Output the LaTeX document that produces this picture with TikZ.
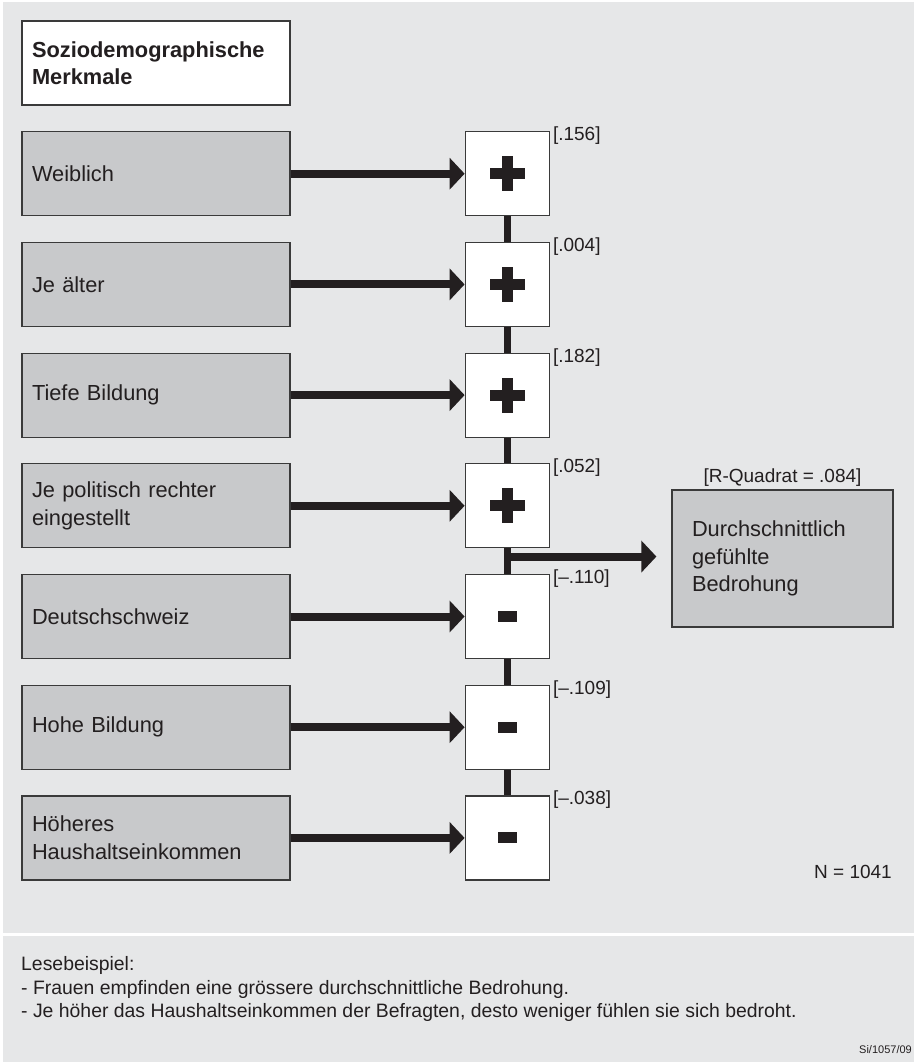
\documentclass[tikz,border=0pt]{standalone}
\usepackage{fontspec}
\setmainfont{Liberation Sans}
\setsansfont{Liberation Sans}
\usepackage{tikz}
\usetikzlibrary{arrows.meta,positioning,calc}
\definecolor{panelGray}{HTML}{E6E7E8}
\definecolor{boxGray}{HTML}{C8C9CB}
\definecolor{inkBlack}{HTML}{231F20}
\definecolor{rimGray}{HTML}{3A3A3A}
\tikzstyle{factorBox}=[draw=rimGray,fill=boxGray,line width=1.2pt,minimum width=268pt,minimum height=84pt,text width=248pt,inner xsep=10pt,align=left,text=inkBlack,font=\fontsize{21.8}{27.5}\selectfont]
\tikzstyle{headBox}=[factorBox,fill=white,font=\fontsize{21.8}{27.5}\selectfont\bfseries]
\tikzstyle{signBox}=[draw=rimGray,fill=white,line width=1.2pt,minimum size=84pt,inner sep=0pt,text=inkBlack]
\tikzstyle{coef}=[inner sep=0pt,text=inkBlack,font=\fontsize{19}{23}\selectfont]
\tikzstyle{noteText}=[inner sep=0pt,text=inkBlack,font=\fontsize{19.4}{23.5}\selectfont]
\tikzstyle{thickFlow}=[draw=inkBlack,line width=8pt,-{Triangle[length=15pt,width=31pt]}]
\tikzstyle{chainLink}=[draw=inkBlack,line width=7pt]
\newcommand{\plusmark}{\makebox[0pt]{\rule[-5.5pt]{35pt}{11pt}}\makebox[0pt]{\rule[-17.5pt]{11pt}{35pt}}}
\newcommand{\minusmark}{\rule[-5.5pt]{19pt}{11pt}}

\begin{document}
\begin{tikzpicture}[font=\sffamily,node distance=25.5pt]
    \useasboundingbox (0,0) rectangle (914pt,-1063pt);
    \fill[white] (0,0) rectangle (914pt,-1063pt);
    \fill[panelGray] (3pt,-2pt) rectangle (914pt,-933pt);
    \fill[panelGray] (3pt,-936pt) rectangle (914pt,-1062pt);

    % Merkmale links
    \node [headBox] (head) at (156pt,-63pt) {Soziodemographische\\Merkmale};
    \node [factorBox,below=of head] (w1) {Weiblich};
    \node [factorBox,below=of w1] (w2) {Je älter};
    \node [factorBox,below=of w2] (w3) {Tiefe Bildung};
    \node [factorBox,below=of w3] (w4) {Je politisch rechter\\eingestellt};
    \node [factorBox,below=of w4] (w5) {Deutschschweiz};
    \node [factorBox,below=of w5] (w6) {Hohe Bildung};
    \node [factorBox,below=of w6] (w7) {Höheres\\Haushaltseinkommen};

    % Vorzeichen
    \foreach \i in {1,...,4}
      \node [signBox,right=174pt of w\i] (p\i) {\plusmark};
    \foreach \i in {5,6,7}
      \node [signBox,right=174pt of w\i] (p\i) {\minusmark};

    \foreach \i/\c in {1/{[.156]},2/{[.004]},3/{[.182]},4/{[.052]},5/{[–.110]},6/{[–.109]},7/{[–.038]}}
      \node [coef,anchor=base west] (b\i) at ([xshift=3pt,yshift=-9.5pt]p\i.north east) {\c};

    \foreach \i in {1,...,7}
      \draw [thickFlow] (w\i.east) -- (p\i.west);
    \foreach \i/\j in {1/2,2/3,3/4,4/5,5/6,6/7}
      \draw [chainLink] (p\i.south) -- (p\j.north);

    % Ergebnis
    \node [factorBox,minimum width=221pt,minimum height=137pt,text width=181pt,inner xsep=20pt] (threat) at (782.5pt,-558.5pt) {Durchschnittlich\\gefühlte\\Bedrohung};
    \node [coef,anchor=base] (rsq) at ([yshift=7pt]threat.north) {[R-Quadrat = .084]};
    \coordinate (split) at ($(p4.south)!0.32!(p5.north)$);
    \draw [thickFlow,shorten >=15pt] (split) -- (split -| threat.west);

    \node [coef,anchor=base east] (nsize) at (892pt,-878pt) {N = 1041};

    % Lesebeispiel
    \node [noteText,anchor=base west] (read0) at (21pt,-970pt) {Lesebeispiel:};
    \node [noteText,anchor=base west] (read1) at (21pt,-994.5pt) {- Frauen empfinden eine grössere durchschnittliche Bedrohung.};
    \node [noteText,anchor=base west] (read2) at (21pt,-1017pt) {- Je höher das Haushaltseinkommen der Befragten, desto weniger fühlen sie sich bedroht.};
    \node [inner sep=0pt,text=inkBlack,font=\fontsize{11}{13}\selectfont,anchor=base east] (ref) at (912pt,-1053pt) {Si/1057/09};
\end{tikzpicture}
\end{document}
